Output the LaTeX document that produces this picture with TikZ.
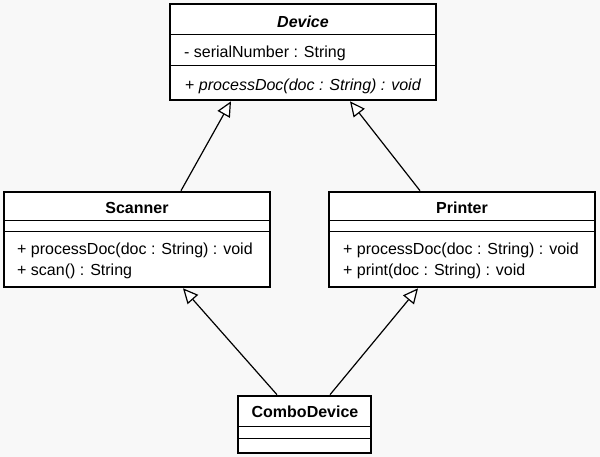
\documentclass[tikz,border=0pt]{standalone}
\usepackage{fontspec}
\setmainfont{Liberation Sans}
\usetikzlibrary{arrows.meta}
\definecolor{bgc}{RGB}{248,248,248}
\begin{document}
\begin{tikzpicture}[x=1pt,y=-1pt,
  cls/.style={draw=black, line width=2.6pt, fill=white, inner sep=0pt, rectangle},
  div/.style={line width=1pt},
  ttl/.style={font=\fontsize{16}{19}\selectfont\bfseries, inner sep=0pt, anchor=mid},
  mem/.style={font=\fontsize{16}{19}\selectfont, inner sep=0pt, anchor=mid west},
  inh/.style={line width=1.2pt, -{Triangle[open, length=15pt, width=14pt, fill=white]}}
]
\fill[bgc] (0,0) rectangle (600,457);
\useasboundingbox (0,0) rectangle (600,457);

% Device
\node[cls, minimum width=266pt, minimum height=96pt] (dev) at (303,52) {};
\draw[div] (170,35) -- (436,35);
\draw[div] (170,66) -- (436,66);
\node[ttl] (devt) at (303,24.5) {\itshape Device};
\node[mem] (deva) at (184,55) {- serialNumber : String};
\node[mem] (devm) at (185,88) {+ \itshape processDoc(doc : String) : void};

% Scanner
\node[cls, minimum width=266pt, minimum height=95pt] (scan) at (137,239.5) {};
\draw[div] (4,221) -- (270,221);
\draw[div] (4,232) -- (270,232);
\node[ttl] (scant) at (137,211) {Scanner};
\node[mem] (scanm1) at (17,252) {+ processDoc(doc : String) : void};
\node[mem] (scanm2) at (17,273) {+ scan() : String};

% Printer
\node[cls, minimum width=266pt, minimum height=95pt] (prn) at (462,239.5) {};
\draw[div] (329,221) -- (595,221);
\draw[div] (329,232) -- (595,232);
\node[ttl] (prnt) at (462,211) {Printer};
\node[mem] (prnm1) at (343,252) {+ processDoc(doc : String) : void};
\node[mem] (prnm2) at (343,273) {+ print(doc : String) : void};

% ComboDevice
\node[cls, minimum width=133pt, minimum height=57pt] (combo) at (304.5,424.5) {};
\draw[div] (238,426) -- (371,426);
\draw[div] (238,438) -- (371,438);
\node[ttl] (combot) at (305,415) {ComboDevice};

% Generalizations
\draw[inh] ([xshift=44pt]scan.north) -- ([xshift=-72pt]dev.south);
\draw[inh] ([xshift=-42pt]prn.north) -- ([xshift=47pt]dev.south);
\draw[inh] ([xshift=-27.5pt]combo.north) -- ([xshift=46pt]scan.south);
\draw[inh] ([xshift=25.5pt]combo.north) -- ([xshift=-44pt]prn.south);
\end{tikzpicture}
\end{document}
